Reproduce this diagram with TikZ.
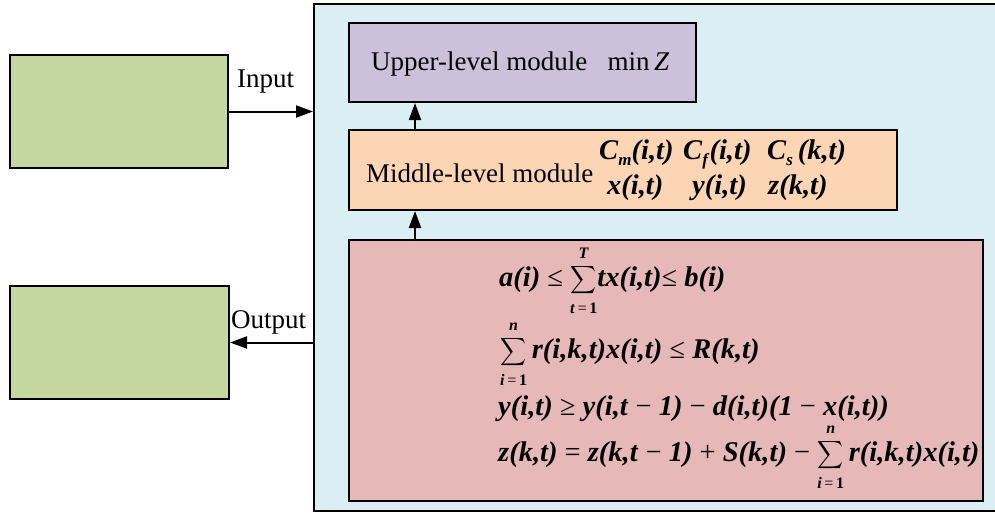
\documentclass[tikz,border=0pt]{standalone}
\usepackage{amsmath}
\usepackage{graphicx}
\usepackage{fontspec}
\setmainfont{Liberation Serif}
\usetikzlibrary{arrows.meta}

\definecolor{envgreen}{HTML}{C4D79F}
\definecolor{upperpurple}{HTML}{CCC0DA}
\definecolor{middleorange}{HTML}{FCD5B4}
\definecolor{lowerred}{HTML}{E6B9B8}
\definecolor{frameblue}{HTML}{DAEEF3}

% bold italic symbols and summation with bold limits
\newcommand\bi[1]{\textbf{\textit{#1}}}
\newcommand\limfont{\fontsize{16}{16}\selectfont}
\newcommand\bsum[2]{$\mathop{\vcenter{\hbox{\resizebox*{26pt}{31pt}{$\displaystyle\sum$}}}}\limits_{\hbox{\rule{0pt}{14pt}\limfont\bi{#1}\,=\,\textbf{1}}}^{\hbox{\limfont\bi{#2}\rule[-3pt]{0pt}{3pt}}}$}
\newcommand\sub[1]{\raisebox{-0.22em}{\fontsize{17}{20}\selectfont\bi{#1}}}

\begin{document}
\begin{tikzpicture}[x=1pt,y=-1pt,
  font=\fontsize{27}{32}\selectfont,
  box/.style={draw=black, line width=2pt, rectangle, inner sep=0pt, anchor=north west},
  arr/.style={line width=2pt, -{Triangle[length=17pt,width=12pt]}},
  txt/.style={inner sep=0pt, anchor=base west},
  eq/.style={txt, font=\fontsize{28.5}{34}\selectfont}]

\useasboundingbox (0,0) rectangle (995,514);

% frame around the three-level model
\node[box, fill=frameblue, minimum width=700, minimum height=507] (frame) at (313,3) {};

% environment blocks
\node[box, fill=envgreen, minimum width=218, minimum height=113] (envin) at (9,54) {};
\node[box, fill=envgreen, minimum width=219, minimum height=113] (envout) at (9,285) {};

% levels of the model
\node[box, fill=upperpurple, minimum width=347, minimum height=79] (upper) at (348,22) {};
\node[box, fill=middleorange, minimum width=548, minimum height=80] (middle) at (348,129) {};
\node[box, fill=lowerred, minimum width=634, minimum height=261] (lower) at (348,239) {};

% upper level
\node[txt] (uppertext) at (371,70) {Upper-level module\hspace{0.75em}min\,\textit{Z}};

% middle level
\node[txt] (middletext) at (366,182) {Middle-level module};
\node[eq] (cm) at (599,159) {\bi{C}\sub{m}\bi{(i,t)}};
\node[eq] (cf) at (683,159) {\bi{C}\sub{f}\bi{(i,t)}};
\node[eq] (cs) at (767,159) {\bi{C}\sub{s}\,\bi{(k,t)}};
\node[eq] (xv) at (607,194) {\bi{x(i,t)}};
\node[eq] (yv) at (692,194) {\bi{y(i,t)}};
\node[eq] (zv) at (768,194) {\bi{z(k,t)}};

% lower level constraints
\node[eq] (c1) at (499,286) {\bi{a(i)} ≤ \bsum{t}{T}\bi{tx(i,t)}≤ \bi{b(i)}};
\node[eq] (c2) at (500,358) {\bsum{i}{n}\,\bi{r(i,k,t)x(i,t)} ≤ \bi{R(k,t)}};
\node[eq] (c3) at (498,415) {\bi{y(i,t)} ≥ \bi{y(i,t} − \bi{1)} − \bi{d(i,t)(1} − \bi{x(i,t))}};
\node[eq] (c4) at (498,461) {\bi{z(k,t)} = \bi{z(k,t} − \bi{1)} + \bi{S(k,t)} − \bsum{i}{n}\,\bi{r(i,k,t)x(i,t)}};

% data flow
\draw[arr] (envin.east) -- (frame.west |- envin.east);
\draw[arr] (frame.west |- envout.east) -- (envout.east);
\node[txt] (inlabel) at (237,87) {Input};
\node[txt] (outlabel) at (231,328) {Output};
\draw[arr] (lower.north -| 415,0) -- (middle.south -| 415,0);
\draw[arr] (middle.north -| 415,0) -- (upper.south -| 415,0);
\end{tikzpicture}
\end{document}
